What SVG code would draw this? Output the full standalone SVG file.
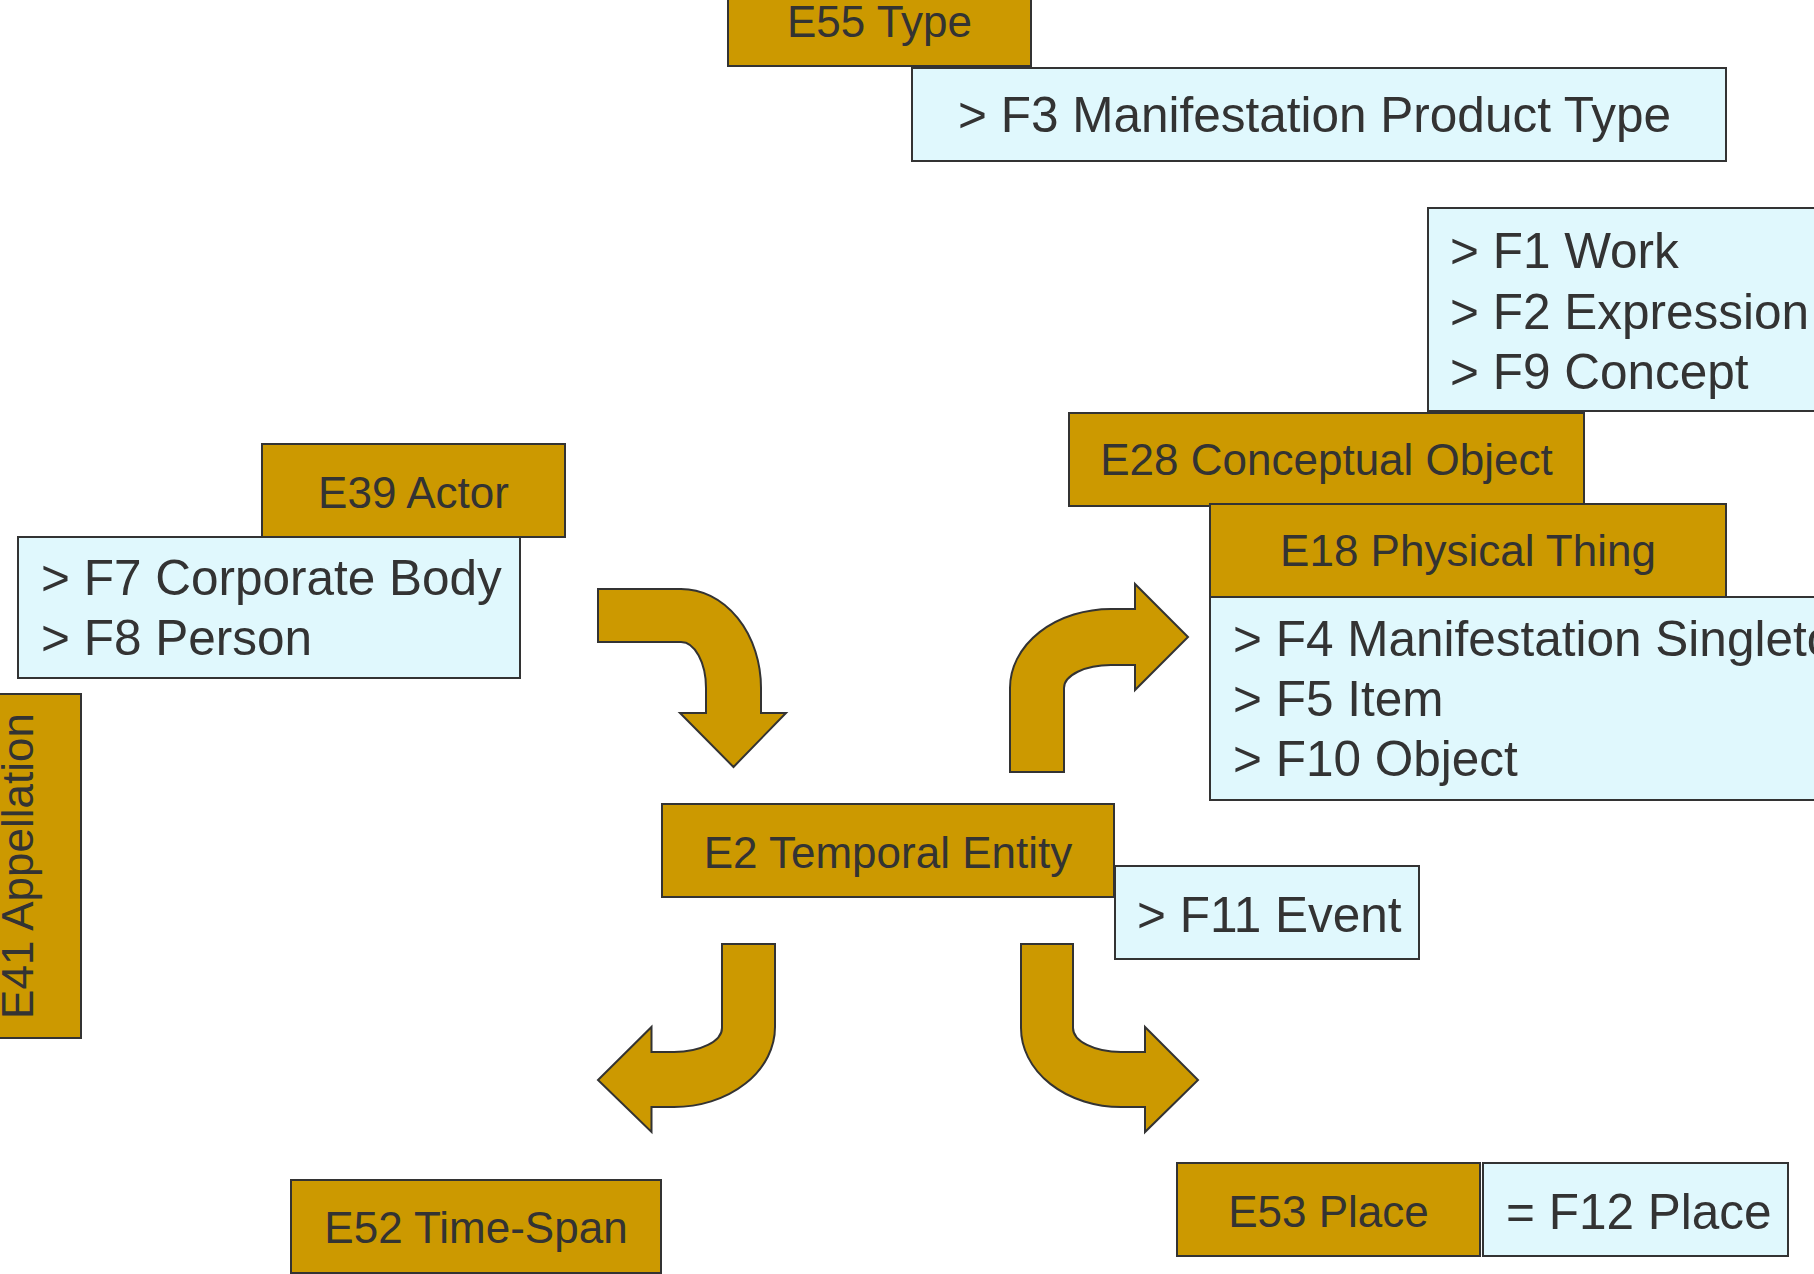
<svg xmlns="http://www.w3.org/2000/svg" width="1814" height="1274" viewBox="0 0 1814 1274">
<style>
.gold{fill:#CC9900;stroke:#333333;stroke-width:2}
.blue{fill:#E0F8FD;stroke:#333333;stroke-width:2}
.gt{font-family:"Liberation Sans",Arial,sans-serif;font-size:44px;fill:#333333;text-anchor:middle}
.bt{font-family:"Liberation Sans",Arial,sans-serif;font-size:49.5px;fill:#333333}
.arrow{fill:#CC9900;stroke:#333333;stroke-width:2;stroke-linejoin:miter}
</style>
<rect width="1814" height="1274" fill="#FFFFFF"/>
<g id="E55"><rect class="gold" x="728" y="-27" width="303" height="93"/><text class="gt" x="879.5" y="37">E55 Type</text></g>
<g id="F3"><rect class="blue" x="912" y="68" width="814" height="93"/><text class="bt" x="958" y="132">&gt; F3 Manifestation Product Type</text></g>
<g id="F1F2F9"><rect class="blue" x="1428" y="208" width="420" height="203"/><text class="bt" x="1450" y="268">&gt; F1 Work</text><text class="bt" x="1450" y="329">&gt; F2 Expression</text><text class="bt" x="1450" y="389">&gt; F9 Concept</text></g>
<g id="E28"><rect class="gold" x="1069" y="413" width="515" height="93"/><text class="gt" x="1326.5" y="475">E28 Conceptual Object</text></g>
<g id="E18"><rect class="gold" x="1210" y="504" width="516" height="93"/><text class="gt" x="1468" y="566">E18 Physical Thing</text></g>
<g id="F4F5F10"><rect class="blue" x="1210" y="597" width="640" height="203"/><text class="bt" x="1233" y="656">&gt; F4 Manifestation Singleton</text><text class="bt" x="1233" y="716">&gt; F5 Item</text><text class="bt" x="1233" y="776">&gt; F10 Object</text></g>
<g id="E39"><rect class="gold" x="262" y="444" width="303" height="93"/><text class="gt" x="413.5" y="508">E39 Actor</text></g>
<g id="F7F8"><rect class="blue" x="18" y="537" width="502" height="141"/><text class="bt" x="41" y="595">&gt; F7 Corporate Body</text><text class="bt" x="41" y="655">&gt; F8 Person</text></g>
<g id="E41"><rect class="gold" x="-20" y="694" width="101" height="344"/><text class="gt" transform="translate(33,866) rotate(-90)" x="0" y="0">E41 Appellation</text></g>
<g id="E2"><rect class="gold" x="662" y="804" width="452" height="93"/><text class="gt" x="888" y="868">E2 Temporal Entity</text></g>
<g id="F11"><rect class="blue" x="1115" y="866" width="304" height="93"/><text class="bt" x="1137" y="932">&gt; F11 Event</text></g>
<g id="E52"><rect class="gold" x="291" y="1180" width="370" height="93"/><text class="gt" x="476" y="1243">E52 Time-Span</text></g>
<g id="E53"><rect class="gold" x="1177" y="1163" width="303" height="93"/><text class="gt" x="1328.5" y="1227">E53 Place</text></g>
<g id="F12"><rect class="blue" x="1483" y="1163" width="305" height="93"/><text class="bt" x="1506" y="1229">= F12 Place</text></g>
<g id="connectors">
<path class="arrow" d="M598,589 L681,589 A80,99 0 0 1 761,688 L761,713 L786,713 L733.5,767 L680,713 L706,713 L706,688 A25,46 0 0 0 681,642 L598,642 Z"/>
<path class="arrow" d="M1010,772 L1010,688 A101,79 0 0 1 1111,609 L1135,609 L1135,584 L1188,637 L1135,690 L1135,665 L1111,665 A47,23 0 0 0 1064,688 L1064,772 Z"/>
<path class="arrow" d="M722,944 L775,944 L775,1027 A101,80 0 0 1 674,1107 L651.5,1107 L651.5,1132 L598,1080 L651.5,1027 L651.5,1052 L674,1052 A48,24 0 0 0 722,1028 Z"/>
<path class="arrow" d="M1021,944 L1073,944 L1073,1028 A48,24 0 0 0 1121,1052 L1145,1052 L1145,1027 L1198,1080 L1145,1132 L1145,1107 L1121,1107 A100,79 0 0 1 1021,1028 Z"/>
</g>
</svg>
